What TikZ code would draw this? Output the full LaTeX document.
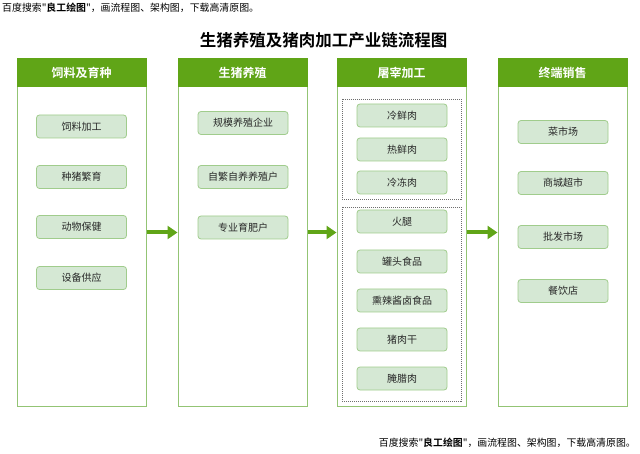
\documentclass[tikz,border=0pt]{standalone}
\usepackage{fontspec}
\setmainfont{Noto Sans CJK SC}[BoldFont={Noto Sans CJK SC Bold}]
\newfontfamily\wmfont{Noto Sans CJK SC}[BoldFont={Noto Sans CJK SC Bold}]
\usetikzlibrary{arrows.meta}
\definecolor{hdr}{RGB}{96,165,23}
\definecolor{colline}{RGB}{147,196,116}
\definecolor{itemfill}{RGB}{213,232,212}
\definecolor{itemline}{RGB}{160,204,140}
\definecolor{dashgray}{RGB}{110,110,110}
\definecolor{txt}{RGB}{40,40,40}
\begin{document}
\begin{tikzpicture}[x=1pt,y=-1pt,
  colbox/.style={draw=colline, line width=1pt, minimum width=129pt, minimum height=347pt, inner sep=0pt, fill=white},
  header/.style={fill=hdr, draw=hdr, line width=1pt, minimum width=129pt, minimum height=28pt, inner sep=0pt, text=white, font=\bfseries\fontsize{12}{14}\selectfont},
  item/.style={draw=itemline, line width=0.8pt, fill=itemfill, rounded corners=3pt, minimum width=90pt, minimum height=23pt, inner sep=0pt, font=\fontsize{10}{12}\selectfont, text=txt},
  group/.style={draw=dashgray, dash pattern=on 1pt off 1pt, line width=0.6pt, minimum width=119pt, inner sep=0pt},
  flow/.style={draw=hdr, line width=4pt, -{Triangle[length=10pt,width=13pt]}},
  wmark/.style={font=\wmfont\fontsize{9.9}{11}\selectfont, text=black, inner sep=0pt}
]
\useasboundingbox[fill=white] (0,0) rectangle (640,454);

% watermarks
\node[wmark, anchor=west] (wm1) at (2,8) {百度搜索"\textbf{良工绘图}"，画流程图、架构图，下载高清原图。};
\node[wmark, anchor=east] (wm2) at (636,443) {百度搜索"\textbf{良工绘图}"，画流程图、架构图，下载高清原图。};

% title
\node[font=\bfseries\fontsize{16.5}{18}\selectfont, text=black, inner sep=0pt] (title) at (323.5,40) {生猪养殖及猪肉加工产业链流程图};

% columns
\node[colbox] (col1) at (81.5,232.5) {};
\node[colbox] (col2) at (242.5,232.5) {};
\node[colbox] (col3) at (401.5,232.5) {};
\node[colbox] (col4) at (562.5,232.5) {};

\node[header] (h1) at (81.5,73) {饲料及育种};
\node[header] (h2) at (242.5,73) {生猪养殖};
\node[header] (h3) at (401.5,73) {屠宰加工};
\node[header] (h4) at (562.5,73) {终端销售};

% column 1
\node[item] (a1) at (81.5,126.5) {饲料加工};
\node[item] (a2) at (81.5,177) {种猪繁育};
\node[item] (a3) at (81.5,227) {动物保健};
\node[item] (a4) at (81.5,278) {设备供应};

% column 2
\node[item] (b1) at (243,123) {规模养殖企业};
\node[item] (b2) at (243,177) {自繁自养养殖户};
\node[item] (b3) at (243,227.5) {专业育肥户};

% column 3
\node[group, minimum height=100pt] (g1) at (401.5,149) {};
\node[group, minimum height=194pt] (g2) at (401.5,304) {};
\node[item] (c1) at (402,115.5) {冷鲜肉};
\node[item] (c2) at (402,149.5) {热鲜肉};
\node[item] (c3) at (402,182.5) {冷冻肉};
\node[item] (c4) at (402,221.5) {火腿};
\node[item] (c5) at (402,261.5) {罐头食品};
\node[item] (c6) at (402,300.5) {熏辣酱卤食品};
\node[item] (c7) at (402,339.5) {猪肉干};
\node[item] (c8) at (402,378.5) {腌腊肉};

% column 4
\node[item] (d1) at (563,132) {菜市场};
\node[item] (d2) at (563,183) {商城超市};
\node[item] (d3) at (563,237) {批发市场};
\node[item] (d4) at (563,291) {餐饮店};

% arrows
\draw[flow] (col1.east) -- (col2.west);
\draw[flow] (col2.east) -- (col3.west);
\draw[flow] (col3.east) -- (col4.west);
\end{tikzpicture}
\end{document}
